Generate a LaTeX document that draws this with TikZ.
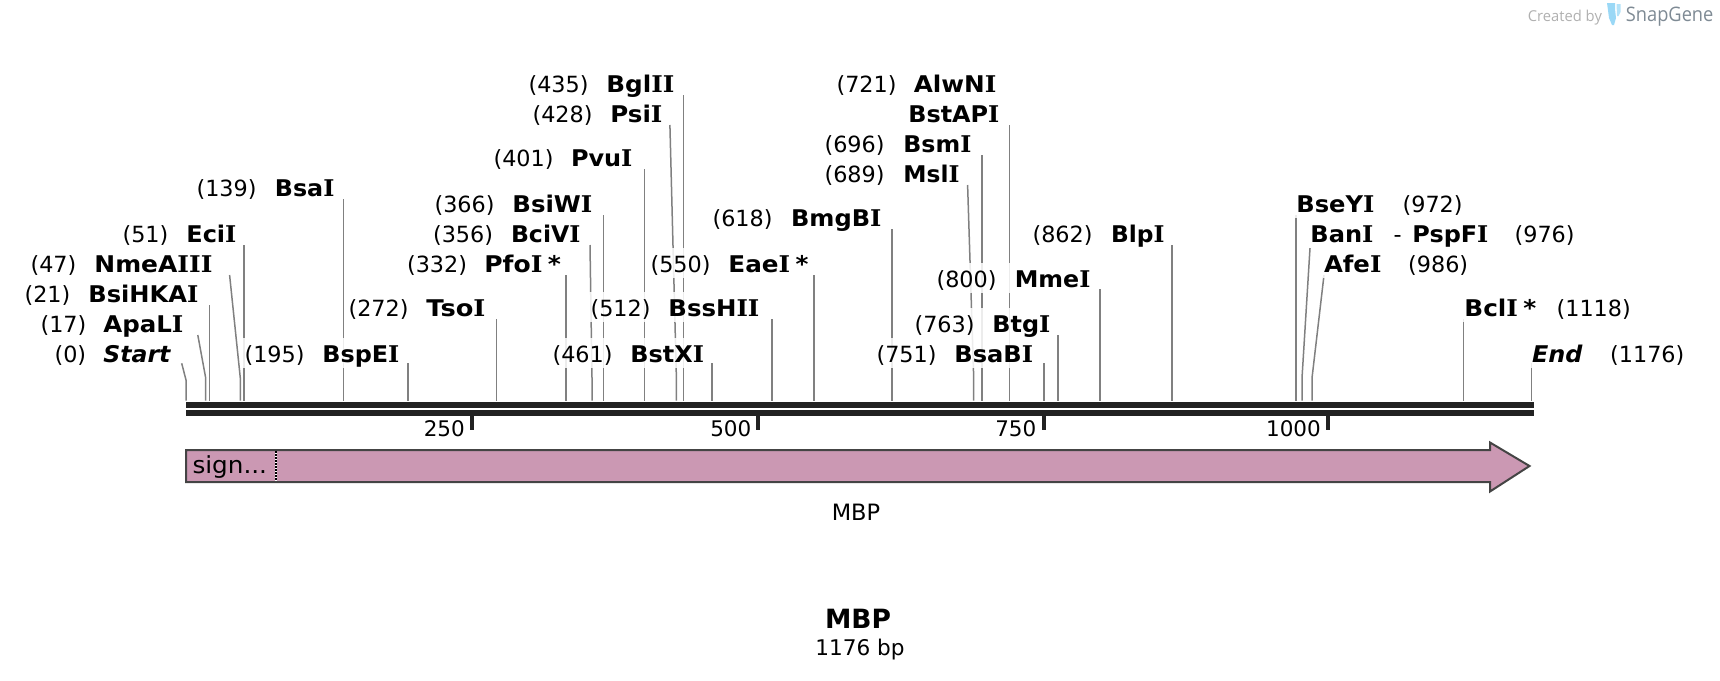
\documentclass[tikz,border=0pt]{standalone}
\usepackage{fontspec}
\usepackage{graphicx}
\setmainfont{DejaVu Sans}
\newfontfamily\serfam{DejaVu Serif}
\newfontfamily\logofam{Open Sans}
\newcommand{\Ib}{{\serfam\bfseries I}}
\definecolor{barcol}{HTML}{222222}
\definecolor{stemcol}{HTML}{808080}
\definecolor{featfill}{HTML}{CB98B3}
\definecolor{featline}{HTML}{444444}
\definecolor{tubecol}{HTML}{9AD8F6}
\definecolor{createdcol}{HTML}{B0B0B0}
\definecolor{snapcol}{HTML}{7E8A94}
\tikzset{
  stemline/.style={draw=stemcol,line width=1.5pt},
  numlabel/.style={anchor=base west,inner sep=0pt,font=\fontsize{22.3}{24}\selectfont},
  namelabel/.style={anchor=base west,inner sep=0pt,font=\fontsize{23}{24}\selectfont\bfseries},
  ticklabel/.style={anchor=base east,inner sep=0pt,font=\fontsize{21.5}{24}\selectfont},
  tickmark/.style={draw=barcol,line width=4pt},
  halo/.style={fill=white,fill opacity=.85},
}
% id, top x, top y, bottom x
\newcommand{\rstem}[4]{%
  \coordinate (#1-t) at (#2,#3);
  \coordinate (#1-k) at (#4,378);
  \coordinate (#1-b) at (#4,400.7);
  \draw[stemline] (#1-t) -- (#1-k) -- (#1-b);}
\newcommand{\rbox}[3]{\fill[halo] (#1-2,#3-24) rectangle (#2+2,#3+6);}
\newcommand{\rnum}[4]{\node[numlabel] (#1) at (#2-0.6,#3+0.7) {#4};}
% id, x, x end, baseline, text
\newcommand{\rname}[5]{%
  \pgfmathsetmacro{\rw}{#3-#2+1}%
  \node[namelabel] (#1) at (#2-0.8,#4+0.7) {\resizebox{\rw pt}{\height}{#5}};}
\begin{document}
\begin{tikzpicture}[x=1pt,y=-1pt]
\useasboundingbox (0,0) rectangle (1720,680);
% logo
\node[anchor=base west,inner sep=0pt,text=createdcol,font=\logofam\fontsize{15}{16}\selectfont] (created) at (1527.7,21) {\resizebox{74pt}{\height}{Created by}};
\fill[tubecol] (1607,3) -- (1615,3) -- (1615,9) -- (1616,18) -- (1614,25) -- (1612,25) -- (1609,18) -- cycle;
\fill[tubecol!75] (1616.5,4) -- (1620.5,4) -- (1620.5,12) -- (1618.5,16) -- (1617,16) -- cycle;
\node[anchor=base west,inner sep=0pt,text=snapcol,font=\logofam\fontsize{20}{22}\selectfont] (snap) at (1625.7,21) {\resizebox{87.5pt}{\height}{SnapGene}};
% stems
\coordinate (st0-t) at (181.7,363.3);
\coordinate (st0-k) at (186,380);
\coordinate (st0-b) at (186,400.7);
\draw[stemline] (st0-t) -- (st0-k) -- (st0-b);
\rstem{st17}{197.8}{335}{205.7}
\rstem{st21}{209.7}{305}{209.7}
\rstem{st47}{229.6}{275}{240.3}
\rstem{st51}{243.8}{245}{243.8}
\rstem{st139}{343.6}{199}{343.6}
\rstem{st195}{408}{363}{408}
\rstem{st272}{496.3}{319}{496.3}
\rstem{st332}{566}{275}{566}
\rstem{st356}{590}{245}{592}
\rstem{st366}{603.7}{215}{603.7}
\rstem{st401}{644.3}{169}{644.3}
\rstem{st428}{669.9}{125}{676.4}
\rstem{st435}{683.7}{95}{683.7}
\rstem{st461}{712}{363}{712}
\rstem{st512}{772}{319}{772}
\rstem{st550}{813.8}{275}{813.8}
\rstem{st618}{891.8}{229}{891.8}
\rstem{st689}{967.6}{185}{973.7}
\rstem{st696}{981.8}{155}{981.8}
\rstem{st721}{1009.7}{125}{1009.7}
\rstem{st751}{1043.8}{363}{1043.8}
\rstem{st763}{1058}{335}{1058}
\rstem{st800}{1100}{289}{1100}
\rstem{st862}{1172}{245}{1172}
\rstem{st972}{1296}{215}{1296}
\rstem{st976}{1310}{248}{1302}
\rstem{st986}{1324}{275}{1312}
\rstem{st1118}{1463.7}{319}{1463.7}
\rstem{st1176}{1531.7}{363}{1531.7}
% halos
\rbox{55}{170}{361.7}
\rbox{41}{183}{331.7}
\rbox{25}{198}{301.7}
\rbox{31}{212}{271.7}
\rbox{123}{236}{241.7}
\rbox{197}{334}{195.7}
\rbox{245}{399}{361.7}
\rbox{349}{485}{315.7}
\rbox{407.5}{560.6}{271.7}
\rbox{433.5}{580}{241.7}
\rbox{435}{592}{211.7}
\rbox{494}{632}{165.7}
\rbox{533}{662}{121.7}
\rbox{529}{674}{91.7}
\rbox{553}{703.6}{361.7}
\rbox{591}{759}{315.7}
\rbox{651}{808}{271.7}
\rbox{713}{881}{225.7}
\rbox{837}{996}{91.7}
\rbox{909}{999}{121.7}
\rbox{825}{971}{151.7}
\rbox{825}{959}{181.7}
\rbox{937}{1090}{286.7}
\rbox{915}{1050}{331.7}
\rbox{877}{1032.7}{361.7}
\rbox{1033}{1164}{241.7}
\rbox{1297}{1463}{211.7}
\rbox{1311}{1574}{241.7}
\rbox{1324.6}{1469}{271.7}
\rbox{1465}{1630}{315.7}
\rbox{1532.6}{1684}{361.7}
% labels
\rnum{n0}{55}{361.7}{(0)}      \rname{e0}{104}{170}{361.7}{\itshape Start}
\rnum{n17}{41}{331.7}{(17)}    \rname{e17}{104}{183}{331.7}{ApaL\Ib}
\rnum{n21}{25}{301.7}{(21)}    \rname{e21}{89}{198}{301.7}{BsiHKA\Ib}
\rnum{n47}{31}{271.7}{(47)}    \rname{e47}{95}{212}{271.7}{NmeA\Ib\Ib\Ib}
\rnum{n51}{123}{241.7}{(51)}   \rname{e51}{187}{236}{241.7}{Eci\Ib}
\rnum{n139}{197}{195.7}{(139)} \rname{e139}{275.5}{334}{195.7}{Bsa\Ib}
\rnum{n195}{245}{361.7}{(195)} \rname{e195}{323}{399}{361.7}{BspE\Ib}
\rnum{n272}{349}{315.7}{(272)} \rname{e272}{427}{485}{315.7}{Tso\Ib}
\rnum{n332}{407.5}{271.7}{(332)} \rname{e332}{485}{560.6}{271.7}{Pfo\Ib{} \hspace{-3pt}*}
\rnum{n356}{433.5}{241.7}{(356)} \rname{e356}{511.6}{580}{241.7}{BciV\Ib}
\rnum{n366}{435}{211.7}{(366)} \rname{e366}{513}{592}{211.7}{BsiW\Ib}
\rnum{n401}{494}{165.7}{(401)} \rname{e401}{571.6}{632}{165.7}{Pvu\Ib}
\rnum{n428}{533}{121.7}{(428)} \rname{e428}{611}{662}{121.7}{Psi\Ib}
\rnum{n435}{529}{91.7}{(435)}  \rname{e435}{607}{674}{91.7}{Bgl\Ib\Ib}
\rnum{n461}{553}{361.7}{(461)} \rname{e461}{631}{703.6}{361.7}{BstX\Ib}
\rnum{n512}{591}{315.7}{(512)} \rname{e512}{669}{759}{315.7}{BssH\Ib\Ib}
\rnum{n550}{651}{271.7}{(550)} \rname{e550}{729}{808}{271.7}{Eae\Ib{} \hspace{-3pt}*}
\rnum{n618}{713}{225.7}{(618)} \rname{e618}{791.6}{881}{225.7}{BmgB\Ib}
\rnum{n721}{837}{91.7}{(721)}  \rname{e721}{914.4}{996}{91.7}{AlwN\Ib}
\rname{e721b}{909}{999}{121.7}{BstAP\Ib}
\rnum{n696}{825}{151.7}{(696)} \rname{e696}{904}{971}{151.7}{Bsm\Ib}
\rnum{n689}{825}{181.7}{(689)} \rname{e689}{904}{959}{181.7}{Msl\Ib}
\rnum{n800}{937}{286.7}{(800)} \rname{e800}{1015.4}{1090}{286.7}{Mme\Ib}
\rnum{n763}{915}{331.7}{(763)} \rname{e763}{993}{1050}{331.7}{Btg\Ib}
\rnum{n751}{877}{361.7}{(751)} \rname{e751}{955}{1032.7}{361.7}{BsaB\Ib}
\rnum{n862}{1033}{241.7}{(862)} \rname{e862}{1111.6}{1164}{241.7}{Blp\Ib}
\rname{e972}{1297}{1374}{211.7}{BseY\Ib} \rnum{n972}{1403}{211.7}{(972)}
\rname{e976}{1311}{1373}{241.7}{Ban\Ib}
\node[numlabel] (dash976) at (1393.5,242.4) {-};
\rname{e976b}{1413}{1488}{241.7}{PspF\Ib} \rnum{n976}{1515}{241.7}{(976)}
\rname{e986}{1324.6}{1381}{271.7}{Afe\Ib} \rnum{n986}{1408.6}{271.7}{(986)}
\rname{e1118}{1465}{1536}{315.7}{Bcl\Ib{} \hspace{-3pt}*} \rnum{n1118}{1557}{315.7}{(1118)}
\rname{e1176}{1532.6}{1582}{361.7}{\itshape End} \rnum{n1176}{1610.6}{361.7}{(1176)}
% ruler
\fill[barcol] (186,401.7) rectangle (1534,407.7);
\fill[barcol] (186,410) rectangle (1534,416);
\coordinate (t250a) at (472,416); \coordinate (t250b) at (472,430);
\coordinate (t500a) at (758,416); \coordinate (t500b) at (758,430);
\coordinate (t750a) at (1044,416); \coordinate (t750b) at (1044,430);
\coordinate (t1000a) at (1328.3,416); \coordinate (t1000b) at (1328.3,430);
\draw[tickmark] (t250a) -- (t250b);
\draw[tickmark] (t500a) -- (t500b);
\draw[tickmark] (t750a) -- (t750b);
\draw[tickmark] (t1000a) -- (t1000b);
\node[ticklabel] (l250) at (465,436.4) {250};
\node[ticklabel] (l500) at (751.5,436.4) {500};
\node[ticklabel] (l750) at (1036.5,436.4) {750};
\node[ticklabel] (l1000) at (1321,436.4) {1000};
% feature arrow
\draw[draw=featline,fill=featfill,line width=2pt,line join=miter]
  (186,450) -- (1490,450) -- (1490,442.5) -- (1529.5,466) -- (1490,491.5) -- (1490,482) -- (186,482) -- cycle;
\coordinate (sepa) at (276,451); \coordinate (sepb) at (276,481);
\draw[white,line width=1.4pt] (sepa) -- (sepb);
\draw[black,line width=1.4pt,dash pattern=on 1.5pt off 1.5pt] (sepa) -- (sepb);
\node[anchor=base west,inner sep=0pt] (sig) at (192.3,473.7) {\resizebox{74.5pt}{\height}{\fontsize{23.5}{26}\selectfont sign...}};
\node[anchor=base,inner sep=0pt,font=\fontsize{22.5}{24}\selectfont] (featname) at (856,520) {MBP};
% title
\node[anchor=base,inner sep=0pt,font=\fontsize{26.5}{30}\selectfont\bfseries] (title) at (858,628) {MBP};
\node[anchor=base,inner sep=0pt,font=\fontsize{21.6}{24}\selectfont] (size) at (860,655.7) {1176 bp};
\end{tikzpicture}
\end{document}
